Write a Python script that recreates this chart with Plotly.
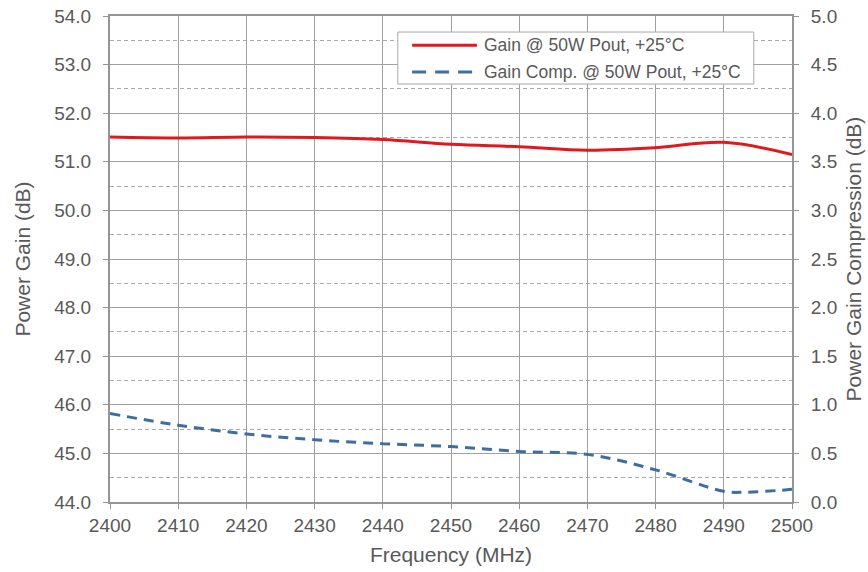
import plotly.graph_objects as go

freq = [2400, 2410, 2420, 2430, 2440, 2450, 2460, 2470, 2480, 2490, 2500]
gain = [51.51, 51.49, 51.51, 51.50, 51.46, 51.36, 51.31, 51.24, 51.29, 51.40, 51.15]
freq_comp = [2400, 2410, 2420, 2430, 2440, 2450, 2460, 2470, 2480, 2490, 2493, 2500]
comp = [0.91, 0.79, 0.70, 0.64, 0.60, 0.57, 0.52, 0.49, 0.33, 0.11, 0.10, 0.13]

left_ticks = [44, 45, 46, 47, 48, 49, 50, 51, 52, 53, 54]
right_ticks = [0, 0.5, 1, 1.5, 2, 2.5, 3, 3.5, 4, 4.5, 5]
series_names = ["Gain @ 50W Pout, +25°C", "Gain Comp. @ 50W Pout, +25°C"]

RED = "#e0191d"
BLUE = "#3d6ea2"
TXT = "#595959"
GRID = "#a0a0a0"
FONT = "Liberation Sans, Arial"

fig = go.Figure()
fig.add_trace(go.Scatter(x=freq, y=gain, name=series_names[0], showlegend=False,
                         mode="lines", line=dict(color=RED, width=3, shape="spline")))
fig.add_trace(go.Scatter(x=freq_comp, y=comp, name=series_names[1], showlegend=False,
                         mode="lines", yaxis="y2",
                         line=dict(color=BLUE, width=3, dash="10px,7px", shape="spline")))

tickfont = dict(family=FONT, size=19, color=TXT)
titlefont = dict(family=FONT, size=21, color=TXT)

# custom legend (box, line samples, labels)
fig.add_shape(type="rect", xref="paper", yref="paper", x0=0.422, x1=0.944, y0=0.860, y1=0.967,
              line=dict(color="#a8a8a8", width=1), fillcolor="white", layer="above")
fig.add_shape(type="line", xref="paper", yref="paper", x0=0.443, x1=0.538, y0=0.940, y1=0.940,
              line=dict(color=RED, width=3), layer="above")
fig.add_shape(type="line", xref="paper", yref="paper", x0=0.443, x1=0.538, y0=0.885, y1=0.885,
              line=dict(color=BLUE, width=3, dash="14px,9px"), layer="above")
fig.add_annotation(xref="paper", yref="paper", x=0.546, y=0.940, text=series_names[0],
                   showarrow=False, xanchor="left", yanchor="middle",
                   font=dict(family=FONT, size=17.5, color=TXT))
fig.add_annotation(xref="paper", yref="paper", x=0.546, y=0.885, text=series_names[1],
                   showarrow=False, xanchor="left", yanchor="middle",
                   font=dict(family=FONT, size=17.5, color=TXT))

fig.update_layout(
    width=868, height=572,
    margin=dict(l=110, r=76, t=16, b=70),
    paper_bgcolor="white", plot_bgcolor="white",
    showlegend=False,
    xaxis=dict(range=[2400, 2500], tickvals=freq, ticktext=[str(f) for f in freq],
               showgrid=True, gridcolor=GRID, gridwidth=1.2,
               showline=True, linecolor="#959595", linewidth=2, mirror=True,
               ticks="outside", ticklen=5, tickcolor="#959595",
               tickfont=tickfont, automargin=False, ticklabeloverflow="allow",
               title=dict(text="Frequency (MHz)", font=titlefont, standoff=13),
               zeroline=False),
    yaxis=dict(range=[44, 54], tickvals=left_ticks, ticktext=[f"{v:.1f}" for v in left_ticks],
               showgrid=True, gridcolor=GRID, gridwidth=1.2,
               minor=dict(dtick=0.5, showgrid=True, gridcolor="#ababab", griddash="4px,3px", gridwidth=1),
               showline=True, linecolor="#959595", linewidth=2,
               ticks="outside", ticklen=5, tickcolor="#959595", ticklabelstandoff=8,
               tickfont=tickfont, automargin=False, ticklabeloverflow="allow",
               title=dict(text="Power Gain (dB)", font=titlefont, standoff=18),
               zeroline=False),
    yaxis2=dict(range=[0, 5], overlaying="y", side="right",
                tickvals=right_ticks, ticktext=[f"{v:.1f}" for v in right_ticks],
                showgrid=False, showline=True, linecolor="#959595", linewidth=2,
                ticks="outside", ticklen=5, tickcolor="#959595", ticklabelstandoff=8,
                tickfont=tickfont, automargin=False, ticklabeloverflow="allow",
                title=dict(text="Power Gain Compression (dB)", font=titlefont, standoff=10),
                zeroline=False),
)

fig.write_html("out.html", config={"displayModeBar": False},
               post_script="document.body.style.margin='0';")
